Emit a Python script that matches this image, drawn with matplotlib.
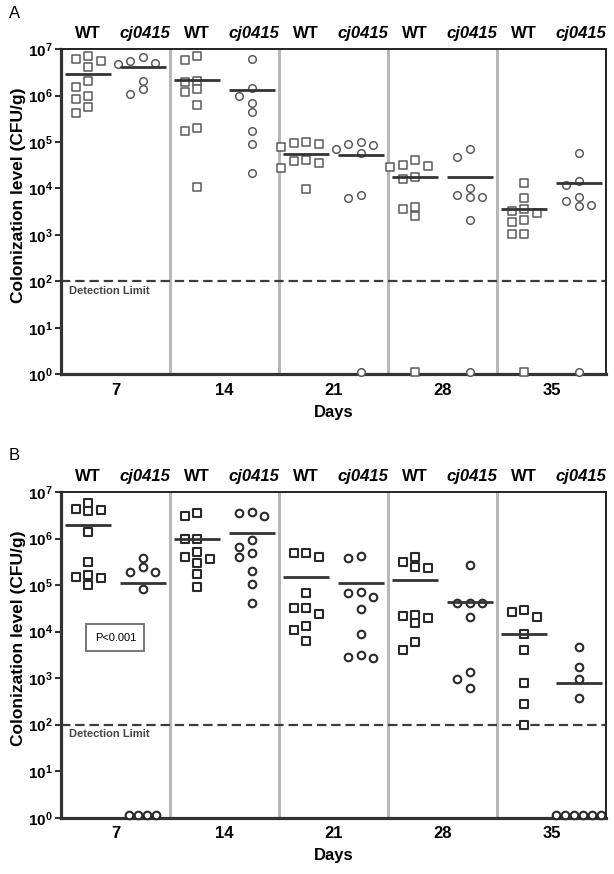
import numpy as np
import matplotlib.pyplot as plt
from matplotlib.ticker import NullLocator

plt.rcParams['font.family'] = ['Liberation Sans', 'DejaVu Sans']
plt.rcParams['mathtext.fontset'] = 'custom'
plt.rcParams['mathtext.rm'] = 'Liberation Sans'
plt.rcParams['mathtext.bf'] = 'Liberation Sans:bold'
plt.rcParams['mathtext.it'] = 'Liberation Sans:italic'

days = [7, 14, 21, 28, 35]
strains = ['WT', 'cj0415']
detection_limit = 1e2
p_text = 'P<0.001'

# panel A, CFU/g per bird (0 = not detected)
a_wt = [
    [7.1e6, 6.2e6, 5.5e6, 4.2e6, 2.1e6, 1.5e6, 1.0e6, 8.3e5, 5.6e5, 4.3e5],
    [7.1e6, 5.9e6, 2.1e6, 2.0e6, 1.35e6, 1.2e6, 6.2e5, 2.0e5, 1.7e5, 1.05e4],
    [1.0e5, 9.4e4, 9.2e4, 7.8e4, 4.1e4, 3.9e4, 3.5e4, 2.8e4, 9.5e3],
    [4.1e4, 3.2e4, 3.0e4, 2.9e4, 1.8e4, 1.6e4, 4.0e3, 3.7e3, 2.5e3, 0],
    [1.3e4, 6.3e3, 3.6e3, 3.2e3, 2.9e3, 2.1e3, 1.9e3, 1.05e3, 1.05e3, 0],
]
a_cj = [
    [6.8e6, 5.6e6, 5.0e6, 4.8e6, 2.1e6, 1.35e6, 1.07e6],
    [6.2e6, 1.45e6, 1.0e6, 6.8e5, 4.4e5, 1.7e5, 8.9e4, 2.1e4],
    [1.0e5, 9.1e4, 8.7e4, 7.2e4, 5.8e4, 7.4e3, 6.3e3, 0],
    [6.9e4, 4.7e4, 1.0e4, 7.4e3, 6.5e3, 6.5e3, 2.1e3, 0],
    [5.8e4, 1.45e4, 1.2e4, 6.5e3, 5.5e3, 4.5e3, 4.1e3, 0],
]
a_wt_mean = [2.9e6, 2.2e6, 5.6e4, 1.8e4, 3.6e3]
a_cj_mean = [4.1e6, 1.3e6, 5.2e4, 1.8e4, 1.3e4]

# panel B
b_wt = [
    [5.8e6, 4.3e6, 4.1e6, 3.9e6, 1.4e6, 3.2e5, 1.65e5, 1.5e5, 1.4e5, 9.8e4],
    [3.5e6, 3.0e6, 1.0e6, 1.0e6, 5.1e5, 4.1e5, 3.7e5, 3.0e5, 1.7e5, 8.9e4],
    [4.9e5, 4.9e5, 4.0e5, 6.6e4, 3.2e4, 3.2e4, 2.4e4, 1.35e4, 1.1e4, 6.2e3],
    [4.1e5, 3.2e5, 2.5e5, 2.3e5, 2.3e4, 2.2e4, 2.0e4, 1.5e4, 5.9e3, 4.1e3],
    [2.9e4, 2.6e4, 2.1e4, 8.7e3, 4.1e3, 7.9e2, 2.8e2, 1.0e2],
]
b_cj = [
    [3.8e5, 2.5e5, 1.95e5, 1.95e5, 8.1e4, 0, 0, 0, 0],
    [3.7e6, 3.5e6, 3.1e6, 9.5e5, 6.5e5, 5.0e5, 4.1e5, 2.0e5, 1.05e5, 4.1e4],
    [4.3e5, 3.9e5, 7.1e4, 6.9e4, 5.5e4, 3.0e4, 8.9e3, 3.2e3, 2.9e3, 2.7e3],
    [2.7e5, 4.2e4, 4.2e4, 4.2e4, 2.1e4, 1.35e3, 9.5e2, 6.2e2],
    [4.6e3, 1.7e3, 9.5e2, 3.7e2, 0, 0, 0, 0, 0, 0],
]
b_wt_mean = [2.0e6, 1.0e6, 1.5e5, 1.3e5, 8.7e3]
b_cj_mean = [1.1e5, 1.3e6, 1.1e5, 4.3e4, 7.9e2]

ZERO_Y = 1.15  # undetected birds drawn on the baseline


def shown(vals):
    v = np.asarray(vals, dtype=float)
    return np.where(v > 0, v, ZERO_Y)


def swarm(vals, step=0.115, gap=0.17, zstep=0.083):
    # simple column swarm; undetected ones go in a centred row
    v = np.asarray(vals, dtype=float)
    lv = np.log10(shown(v))
    off = np.zeros(len(lv))
    placed = []
    for k in np.argsort(-lv, kind='stable'):
        if v[k] <= 0:
            continue
        for c in (0, -1, 1, -2, 2, -3, 3, -4, 4):
            if all(pc != c or abs(pl - lv[k]) >= gap for pc, pl in placed):
                break
        placed.append((c, lv[k]))
        off[k] = c * step
    zeros = np.where(v <= 0)[0]
    off[zeros] = (np.arange(len(zeros)) - (len(zeros) - 1) / 2) * zstep
    return off


def draw(ax, wt, cj, wt_mean, cj_mean, dark, show_p):
    ec = '#2a2a2a' if dark else '#5a5a5a'
    mlw = 1.5 if dark else 1.1
    for i in range(len(days)):
        for j, (grp, mean, mk) in enumerate([(wt, wt_mean, 's'), (cj, cj_mean, 'o')]):
            x0 = i - 0.25 + 0.5 * j
            ax.scatter(x0 + swarm(grp[i]), shown(grp[i]), marker=mk, s=30,
                       facecolors='white', edgecolors=ec, linewidths=mlw,
                       zorder=4, clip_on=False)
            ax.hlines(mean[i], x0 - 0.21, x0 + 0.21, color='#333333',
                      lw=2.0, zorder=5)
    for i in range(len(days) - 1):
        ax.axvline(i + 0.5, color='#b8b8b8', lw=2.2, zorder=1)
    ax.axhline(detection_limit, color='#3c3c3c', lw=1.6,
               linestyle=(0, (4.2, 2.2)), zorder=2)
    ax.text(-0.43, 10 ** 1.9, 'Detection Limit', fontsize=8, fontweight='bold',
            color='#444444', ha='left', va='top')
    if show_p:
        ax.text(0.0, 7.4e3, p_text, fontsize=8, ha='center', va='center',
                bbox=dict(boxstyle='square,pad=0.75', fc='white',
                          ec='#777777', lw=1.4), zorder=6)

    ax.set_yscale('log')
    ax.set_ylim(1, 1e7)
    ax.set_xlim(-0.5, len(days) - 0.5)
    ax.set_yticks([10.0 ** k for k in range(8)])
    ax.set_yticklabels([r'$\mathbf{10^{%d}}$' % k for k in range(8)], fontsize=11)
    ax.yaxis.set_minor_locator(NullLocator())
    ax.set_xticks(range(len(days)))
    ax.set_xticklabels([str(d) for d in days], fontsize=12, fontweight='bold')
    ax.tick_params(axis='x', length=0, pad=6)
    ax.tick_params(axis='y', length=4, width=1.5, color='#333333', pad=2)
    ax.set_xlabel('Days', fontsize=12, fontweight='bold', labelpad=5)
    ax.set_ylabel('Colonization level (CFU/g)', fontsize=12.5, fontweight='bold')
    ax.yaxis.set_label_coords(-0.064, 0.55)
    for s in ['left', 'bottom']:
        ax.spines[s].set_linewidth(2.3)
        ax.spines[s].set_color('#333333')
    for s in ['top', 'right']:
        ax.spines[s].set_linewidth(1.4)
        ax.spines[s].set_color('#222222')

    tr = ax.get_xaxis_transform()
    for i in range(len(days)):
        ax.text(i - 0.25, 1.025, strains[0], transform=tr, ha='center',
                va='bottom', fontsize=12, fontweight='bold')
        ax.text(i + 0.27, 1.025, strains[1], transform=tr, ha='center',
                va='bottom', fontsize=12, fontweight='bold', style='italic')


fig = plt.figure(figsize=(6.14, 8.74), dpi=100)
ax_a = fig.add_axes([0.0993, 0.5717, 0.8876, 0.3722])
ax_b = fig.add_axes([0.0993, 0.0644, 0.8876, 0.3727])

draw(ax_a, a_wt, a_cj, a_wt_mean, a_cj_mean, False, False)
draw(ax_b, b_wt, b_cj, b_wt_mean, b_cj_mean, True, True)

fig.text(15 / 614, 1 - 14 / 874, 'A', fontsize=12, ha='center', va='center')
fig.text(14 / 614, 1 - 456 / 874, 'B', fontsize=12, ha='center', va='center')

fig.savefig('out.png', dpi=100)
